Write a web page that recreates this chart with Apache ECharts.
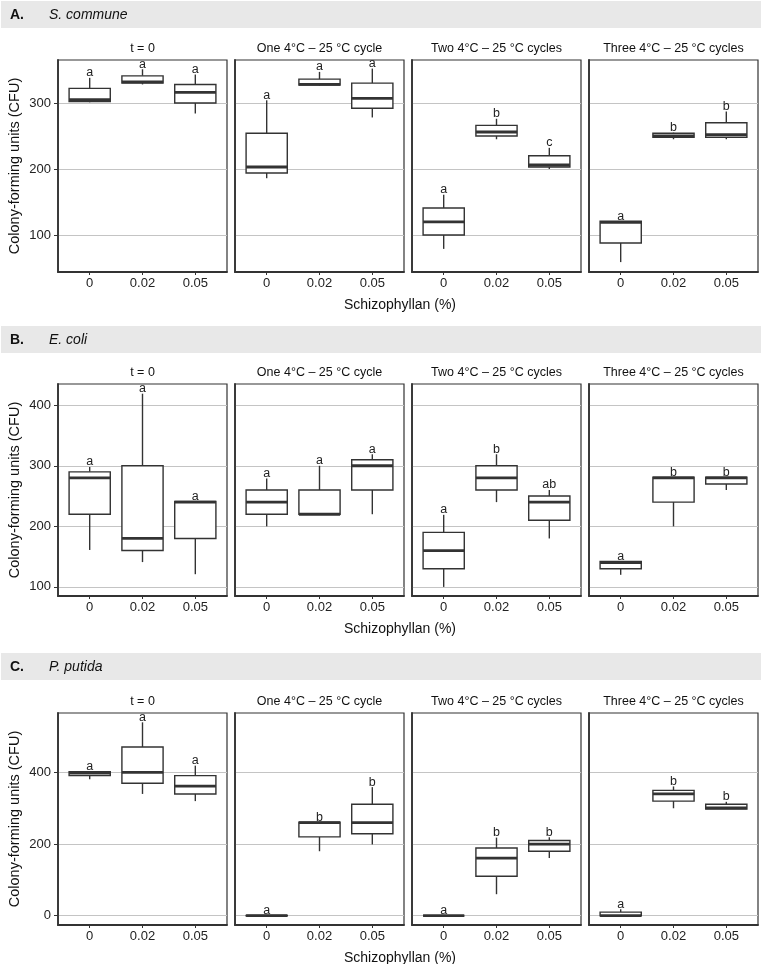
<!DOCTYPE html>
<html>
<head>
<meta charset="utf-8">
<script src="https://cdn.jsdelivr.net/npm/echarts@6/dist/echarts.min.js"></script>
<style>
  html, body { margin: 0; padding: 0; background: #fff; }
  #chart { width: 762px; height: 964px; }
</style>
</head>
<body>
<div id="chart"></div>
<script>
// x categories (Schizophyllan %)
var categories = ['0', '0.02', '0.05'];
var panelTitles = ['t = 0', 'One 4°C – 25 °C cycle', 'Two 4°C – 25 °C cycles', 'Three 4°C – 25 °C cycles'];
var sectionTags = ['A.', 'B.', 'C.'];
var speciesNames = ['S. commune', 'E. coli', 'P. putida'];

// y tick labels per section
var yTicksA = [100, 200, 300];
var yTicksB = [100, 200, 300, 400];
var yTicksC = [0, 200, 400];

// boxes: [min, q1, median, q3, max] for 0 / 0.02 / 0.05, one block per panel
var boxesA = [
  [[301, 302, 305, 322, 338], [328, 330, 332, 341, 351], [284, 300, 316, 328, 343]],
  [[186, 194, 203, 254, 304], [326, 327, 328, 336, 347], [278, 292, 307, 330, 352]],
  [[79, 100, 120, 141, 161], [245, 250, 256, 266, 276], [200, 203, 206, 220, 232]],
  [[59, 88, 119, 121, 121], [245, 248, 250, 254, 255], [245, 248, 252, 270, 287]]
];
var boxesB = [
  [[161, 220, 280, 290, 298], [141, 160, 180, 300, 419], [121, 180, 240, 241, 241]],
  [[200, 220, 240, 260, 279], [220, 220, 220, 260, 300], [220, 260, 300, 310, 319]],
  [[100, 130, 160, 190, 219], [240, 260, 280, 300, 319], [180, 210, 240, 250, 260]],
  [[120, 130, 140, 142, 142], [200, 240, 280, 281, 281], [260, 270, 280, 281, 281]]
];
var boxesC = [
  [[381, 391, 398, 402, 403], [340, 370, 400, 471, 540], [320, 340, 362, 391, 419]],
  [[0, 0, 0, 1, 1], [180, 220, 260, 261, 261], [199, 229, 260, 311, 359]],
  [[0, 0, 0, 0, 0], [60, 110, 161, 189, 218], [161, 180, 200, 210, 219]],
  [[0, 0, 0, 10, 18], [300, 320, 340, 350, 361], [298, 298, 301, 311, 318]]
];

// significance letters
var lettersA = [['a', 'a', 'a'], ['a', 'a', 'a'], ['a', 'b', 'c'], ['a', 'b', 'b']];
var lettersB = [['a', 'a', 'a'], ['a', 'a', 'a'], ['a', 'b', 'ab'], ['a', 'b', 'b']];
var lettersC = [['a', 'a', 'a'], ['a', 'b', 'b'], ['a', 'b', 'b'], ['a', 'b', 'b']];

var sections = [
  { boxes: boxesA, letters: lettersA, ticks: yTicksA, min: 44, max: 365, step: 100, top: 60 },
  { boxes: boxesB, letters: lettersB, ticks: yTicksB, min: 85, max: 435, step: 100, top: 384 },
  { boxes: boxesC, letters: lettersC, ticks: yTicksC, min: -26, max: 566, step: 200, top: 713 }
];
var bandTops = [1, 326, 653];

var FONT = '"Liberation Sans", Arial, sans-serif';
var panelLeft = [58, 235, 412, 589];
var panelW = 169;
var panelH = 212;
var ink = '#333';

function makeBoxRenderer(letters) {
  return function (params, api) {
    var x = api.value(0);
    var lo = api.coord([x, api.value(1)]);
    var q1 = api.coord([x, api.value(2)]);
    var med = api.coord([x, api.value(3)]);
    var q3 = api.coord([x, api.value(4)]);
    var hi = api.coord([x, api.value(5)]);
    var w = api.size([0.78, 0])[0];
    var cx = lo[0];
    return {
      type: 'group',
      children: [
        { type: 'line', shape: { x1: cx, y1: hi[1], x2: cx, y2: q3[1] }, style: { stroke: ink, lineWidth: 1.4 } },
        { type: 'line', shape: { x1: cx, y1: q1[1], x2: cx, y2: lo[1] }, style: { stroke: ink, lineWidth: 1.4 } },
        { type: 'rect', shape: { x: cx - w / 2, y: q3[1], width: w, height: q1[1] - q3[1] },
          style: { fill: '#fff', stroke: ink, lineWidth: 1.4 } },
        { type: 'line', shape: { x1: cx - w / 2, y1: med[1], x2: cx + w / 2, y2: med[1] },
          style: { stroke: ink, lineWidth: 2.8 } },
        { type: 'text', x: cx, y: hi[1] + 1.5,
          style: { text: letters[params.dataIndex], font: '12.5px ' + FONT, fill: '#222',
                   textAlign: 'center', textVerticalAlign: 'bottom' } }
      ]
    };
  };
}

var grids = [], xAxes = [], yAxes = [], series = [], graphics = [];

sections.forEach(function (sec, s) {
  // header band
  graphics.push({ type: 'rect', shape: { x: 1, y: bandTops[s], width: 760, height: 27 },
                  style: { fill: '#e8e8e8' }, z: -1 });
  graphics.push({ type: 'text', x: 10, y: bandTops[s] + 14,
                  style: { text: sectionTags[s], font: 'bold 14px ' + FONT, fill: '#111', textVerticalAlign: 'middle' } });
  graphics.push({ type: 'text', x: 49, y: bandTops[s] + 14,
                  style: { text: speciesNames[s], font: 'italic 14px ' + FONT, fill: '#111', textVerticalAlign: 'middle' } });
  // y title
  graphics.push({ type: 'text', x: 15, y: sec.top + panelH / 2, rotation: Math.PI / 2,
                  style: { text: 'Colony-forming units (CFU)', font: '14.5px ' + FONT, fill: '#111',
                           textAlign: 'center', textVerticalAlign: 'middle' } });
  // x title
  graphics.push({ type: 'text', x: 400, y: sec.top + panelH + 33,
                  style: { text: 'Schizophyllan (%)', font: '14px ' + FONT, fill: '#111',
                           textAlign: 'center', textVerticalAlign: 'middle' } });

  for (var p = 0; p < 4; p++) {
    var idx = grids.length;
    grids.push({ left: panelLeft[p], top: sec.top, width: panelW, height: panelH,
                 show: true, borderColor: ink, borderWidth: 1.2, backgroundColor: '#fff' });
    graphics.push({ type: 'text', x: panelLeft[p] + panelW / 2, y: sec.top - 11,
                    style: { text: panelTitles[p], font: '12.5px ' + FONT, fill: '#111',
                             textAlign: 'center', textVerticalAlign: 'middle' } });
    xAxes.push({
      type: 'value', gridIndex: idx, min: -0.6, max: 2.6,
      axisLine: { show: true, onZero: false, lineStyle: { color: ink, width: 1.8 } },
      axisTick: { show: true, customValues: [0, 1, 2], length: 3, lineStyle: { color: ink } },
      axisLabel: { customValues: [0, 1, 2], margin: 5, color: '#222', fontSize: 13, fontFamily: FONT,
                   formatter: function (v) { return categories[Math.round(v)]; } },
      splitLine: { show: false }
    });
    yAxes.push({
      type: 'value', gridIndex: idx, min: sec.min, max: sec.max,
      minInterval: sec.step, maxInterval: sec.step, splitNumber: 4,
      axisLine: { show: true, onZero: false, lineStyle: { color: ink, width: 1.8 } },
      axisTick: { show: p === 0, customValues: sec.ticks, length: 4, lineStyle: { color: ink } },
      axisLabel: { show: p === 0, customValues: sec.ticks, margin: 7, color: '#222', fontSize: 13, fontFamily: FONT },
      splitLine: { show: true, lineStyle: { color: '#c4c4c4', width: 1 } }
    });
    series.push({
      type: 'custom', xAxisIndex: idx, yAxisIndex: idx,
      encode: { x: 0, y: [1, 2, 3, 4, 5] },
      renderItem: makeBoxRenderer(sec.letters[p]),
      data: sec.boxes[p].map(function (b, i) { return [i].concat(b); }),
      z: 5
    });
  }
});

var myChart = echarts.init(document.getElementById('chart'), null, { renderer: 'canvas' });
myChart.setOption({
  backgroundColor: '#fff',
  animation: false,
  textStyle: { fontFamily: FONT },
  grid: grids,
  xAxis: xAxes,
  yAxis: yAxes,
  series: series,
  graphic: graphics
});
</script>
</body>
</html>
